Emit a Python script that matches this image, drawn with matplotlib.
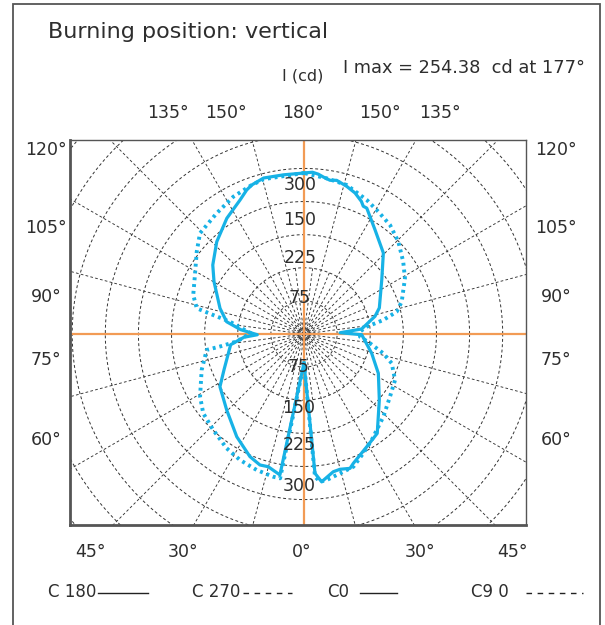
import numpy as np
import matplotlib
matplotlib.use("Agg")
import matplotlib.pyplot as plt
from matplotlib.patches import Rectangle

W, H = 605, 625

# luminous intensity (cd) against gamma angle (deg, 0 = down, 180 = up)
c0_gamma = [0, 4.5, 6.8, 12, 14.9, 18.9, 20.9, 29.1, 36.4, 48.8, 62.1, 74.1, 89.3, 92,
            95, 104, 109.1, 124.9, 135.6, 145.8, 153.5, 155.1, 156.6, 160.1, 163.9, 168,
            170.4, 173, 174.9, 177, 180]
c0_cd = [45.5, 219.4, 233.7, 221.1, 219.8, 223, 217.3, 202.6, 193.8, 157.2, 132.1, 110.5, 90.6, 56.7,
         90.9, 114.9, 125.2, 148.9, 178.1, 198.2, 220.9, 221.1, 226.9, 235.5, 241.4, 246.7,
         244.8, 248.4, 252, 254.38, 252.8]

c180_gamma = [0, 9.7, 15.1, 18.6, 23.8, 33.2, 45.5, 57.9, 65.9, 81.7, 86.9, 89.1, 93.9, 99,
              107, 120.2, 127.1, 136.6, 146.3, 154.5, 158.3, 160.7, 165.5, 172.7, 180]
c180_cd = [45.5, 224.5, 215.8, 217, 210.4, 192.8, 170.2, 155.8, 137.6, 116.4, 94.4, 73.3, 99.6, 123,
           137.9, 163.5, 179.6, 199.4, 218.4, 233.2, 243.4, 248, 253, 252, 252.8]

c90_gamma = [0, 4.4, 6.2, 8.8, 14.5, 20.4, 26.4, 32.6, 43.8, 53.9, 63.2, 71.5, 76.3, 82, 87.2,
             92.4, 96.6, 100, 103.5, 108.3, 118.9, 126.1, 134.4, 141.7, 148.7, 154.9, 164,
             171.7, 180]
c90_cd = [45.5, 224.7, 233.3, 232.1, 226, 222.4, 209.2, 197.5, 180, 167.1, 160.2, 145.3, 128.1, 104.7, 88.1,
          87.9, 99.1, 126.4, 149.6, 161.6, 181.1, 192.8, 207.3, 218, 224.7, 232.4, 243.4,
          247, 252.8]

c270_gamma = [0, 9.4, 12.1, 19.2, 26.9, 34.1, 43.4, 51.8, 58.9, 70.6, 80.7, 81.6, 83.8, 91,
              92.7, 99.4, 101.8, 103.5, 109.4, 118.4, 127.5, 134.1, 144.1, 152.8, 160.7, 165.5, 180]
c270_cd = [45.5, 229.7, 229.3, 226.1, 221.9, 216.7, 207.4, 201.3, 190.6, 170.4, 154.8, 132.2, 105.4, 83.7,
           89.2, 117.8, 145.6, 173.2, 184.4, 194.7, 212.3, 227.4, 234, 242.5, 248, 251.2, 252.8]

ring_labels_up = ["300", "150", "225", "75"]
ring_labels_down = ["75", "150", "225", "300"]
left_angles = ["120°", "105°", "90°", "75°", "60°"]
top_angles = ["135°", "150°", "180°", "150°", "135°"]
bottom_angles = ["45°", "30°", "0°", "30°", "45°"]
legend_names = ["C 180", "C 270", "C0", "C9 0"]

cd_per_px = 254.38 / 162.0
ring_step = 52.0

blue = "#17b2e6"
orange = "#f29b55"
grid_c = "#333333"
txt_c = "#2e2e2e"
plt.rcParams["font.family"] = ["DejaVu Sans"]


def px(x, y):
    return x / W, 1 - y / H


fig = plt.figure(figsize=(W / 100, H / 100), dpi=100)
fig.patches.append(Rectangle(px(13, 700), (600 - 13) / W, (700 - 4) / H, transform=fig.transFigure,
                             fill=False, ec="#555555", lw=1.3))

# plot box 70..526 x 140..525, centre at (304, 334)
l, r, t, b = 70, 526, 140, 525
cx, cy = 304, 334
ax = fig.add_axes([l / W, 1 - b / H, (r - l) / W, (b - t) / H])
ax.set_xlim(-(cx - l) * cd_per_px, (r - cx) * cd_per_px)
ax.set_ylim(-(b - cy) * cd_per_px, (cy - t) * cd_per_px)
ax.set_xticks([])
ax.set_yticks([])
for s in ax.spines.values():
    s.set_color("#555555")
    s.set_linewidth(1.0)
ax.spines["left"].set_linewidth(2.0)
ax.spines["bottom"].set_linewidth(2.0)

# grid rings and spokes
th = np.linspace(0, 2 * np.pi, 400)
for k in range(1, 11):
    rr = k * ring_step
    ax.plot(rr * np.cos(th), rr * np.sin(th), color=grid_c, lw=0.7, dashes=(3, 2.5), zorder=1)
for a in np.arange(0, 360, 7.5):
    ang = np.radians(a)
    if a % 15 == 0:
        r0, r1 = 0, 700
    else:
        r0, r1 = 6, 2 * ring_step
    ax.plot([r0 * np.cos(ang), r1 * np.cos(ang)], [r0 * np.sin(ang), r1 * np.sin(ang)],
            color=grid_c, lw=0.65, dashes=(3, 2.5), zorder=1)

ax.axhline(0, color=orange, lw=1.6, zorder=2)
ax.axvline(0, color=orange, lw=1.6, zorder=2)


def curve(gam, cd, side):
    g = np.radians(gam)
    v = np.asarray(cd)
    return side * v * np.sin(g), -v * np.cos(g)


x, y = curve(c0_gamma, c0_cd, 1)
ax.plot(x, y, color=blue, lw=2.3, zorder=4, solid_joinstyle="round")
x, y = curve(c180_gamma, c180_cd, -1)
ax.plot(x, y, color=blue, lw=2.3, zorder=4, solid_joinstyle="round")
x, y = curve(c90_gamma, c90_cd, 1)
ax.plot(x, y, color=blue, lw=2.8, ls=(0, (0.75, 1.0)), zorder=3)
x, y = curve(c270_gamma, c270_cd, -1)
ax.plot(x, y, color=blue, lw=2.8, ls=(0, (0.75, 1.0)), zorder=3)

# ring value labels
for lab, yy in zip(ring_labels_up, [185, 220, 258, 298]):
    fig.text(*px(300, yy), lab, ha="center", va="center", fontsize=12.5, color=txt_c, zorder=5)
for lab, yy in zip(ring_labels_down, [367, 408, 445, 486]):
    fig.text(*px(299, yy), lab, ha="center", va="center", fontsize=12.5, color=txt_c, zorder=5)

# angle labels round the box
for lab, yy in zip(left_angles, [150, 228, 297, 360, 440]):
    fig.text(*px(46, yy), lab, ha="center", va="center", fontsize=12.5, color=txt_c)
    fig.text(*px(556, yy), lab, ha="center", va="center", fontsize=12.5, color=txt_c)
for lab, xx in zip(top_angles, [168, 226, 303, 380, 440]):
    fig.text(*px(xx, 113), lab, ha="center", va="center", fontsize=12.5, color=txt_c)
for lab, xx in zip(bottom_angles, [90, 183, 302, 420, 512]):
    fig.text(*px(xx, 552), lab, ha="center", va="center", fontsize=12.5, color=txt_c)

fig.text(*px(48, 32), "Burning position: vertical", ha="left", va="center", fontsize=16, color=txt_c)
fig.text(*px(303, 76), "I (cd)", ha="center", va="center", fontsize=11.5, color=txt_c)
fig.text(*px(585, 68), "I max = 254.38  cd at 177°", ha="right", va="center", fontsize=12.8, color=txt_c)

# legend row
leg = [(48, 98, 148, "-"), (192, 243, 292, "--"), (327, 360, 397, "-"), (471, 526, 583, "--")]
for name, (tx, x0, x1, st) in zip(legend_names, leg):
    fig.text(*px(tx, 592), name, ha="left", va="center", fontsize=12, color=txt_c)
    fig.add_artist(plt.Line2D([x0 / W, x1 / W], [1 - 593 / H] * 2, transform=fig.transFigure,
                              color="#222222", lw=1.0, ls=st if st == "-" else (0, (4, 4))))

fig.savefig("out.png", dpi=100)
